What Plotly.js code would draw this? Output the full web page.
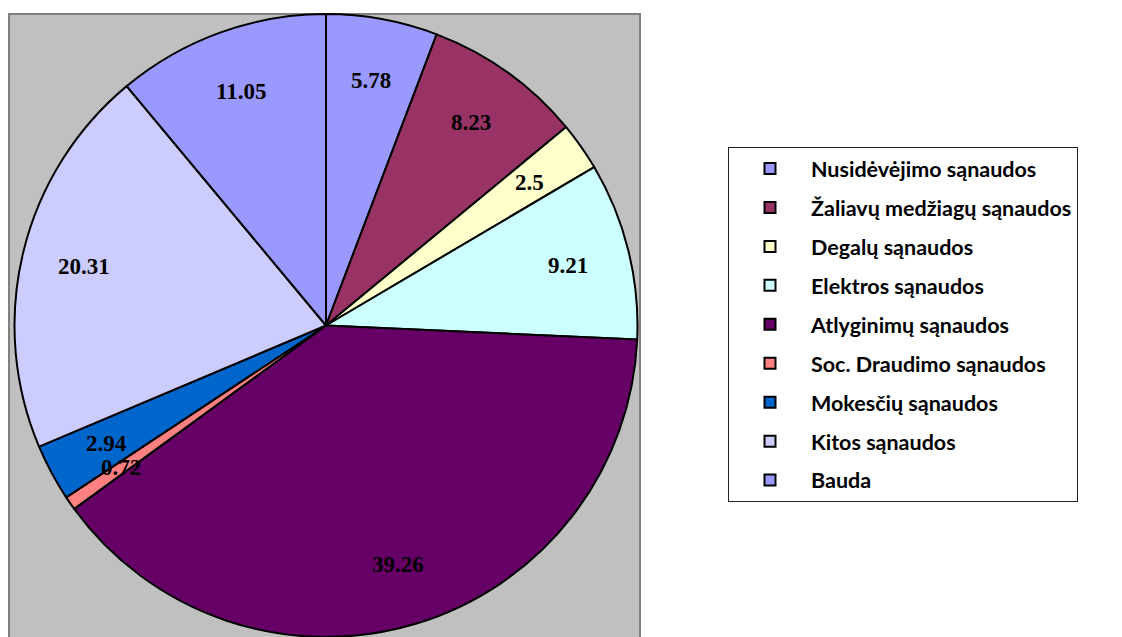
<!DOCTYPE html>
<html>
<head>
<meta charset="utf-8">
<script src="https://cdn.plot.ly/plotly-3.0.1.min.js"></script>
<style>html,body{margin:0;padding:0;background:#fff;}#chart{width:1122px;height:637px;}</style>
</head>
<body>
<div id="chart"></div>
<script>
const labels = ["Nusidėvėjimo sąnaudos","Žaliavų medžiagų sąnaudos","Degalų sąnaudos","Elektros sąnaudos","Atlyginimų sąnaudos","Soc. Draudimo sąnaudos","Mokesčių sąnaudos","Kitos sąnaudos","Bauda"];
const values = [5.78, 8.23, 2.5, 9.21, 39.26, 0.72, 2.94, 20.31, 11.05];
const colors = ["#9999FF","#993366","#FFFFCC","#CCFFFF","#660066","#FF8080","#0066CC","#CCCCFF","#9999FF"];

const W = 1122, H = 637;
// pie domain in pixels
const px0 = 14, px1 = 638, pyTop = 14, pyBot = 637;
const domX = [px0 / W, px1 / W];
const domY = [0, (H - pyTop) / H];
const R = Math.min(px1 - px0, pyBot - pyTop) / 2;
const cx = (px0 + px1) / 2;
const cy = pyTop + (pyBot - pyTop) / 2;

const total = values.reduce((a, b) => a + b, 0);
let cum = 0;
const annotations = values.map((v, i) => {
  const mid = (cum + v / 2) / total * 2 * Math.PI;
  cum += v;
  const r = 0.8 * R;
  const x = cx + r * Math.sin(mid);
  const y = cy - r * Math.cos(mid);
  return {
    xref: 'paper', yref: 'paper', x: x / W, y: (H - y) / H,
    text: String(v), showarrow: false, xanchor: 'center', yanchor: 'middle',
    font: {family: 'Liberation Serif', size: 23, color: '#000', weight: 'bold'}
  };
});

const traces = [{
  type: 'pie', labels: labels, values: values, sort: false, direction: 'clockwise', rotation: 0,
  marker: {colors: colors, line: {color: '#000', width: 2}},
  textinfo: 'none', hoverinfo: 'label+value', showlegend: false,
  domain: {x: domX, y: domY}
}];
labels.forEach((lab, i) => {
  traces.push({
    type: 'scatter', mode: 'markers', x: [null], y: [null], name: lab,
    legendgroup: 'g' + i,
    marker: {symbol: 'square', size: 11, color: colors[i], line: {color: '#000', width: 2}},
    hoverinfo: 'skip'
  });
});

const layout = {
  width: W, height: H,
  margin: {l: 0, r: 0, t: 0, b: 0},
  paper_bgcolor: '#fff', plot_bgcolor: 'rgba(0,0,0,0)',
  xaxis: {visible: false}, yaxis: {visible: false},
  showlegend: true,
  legend: {
    x: 728 / W, y: (H - 147) / H, xanchor: 'left', yanchor: 'top',
    bgcolor: '#fff', bordercolor: '#222', borderwidth: 1,
    font: {family: 'Lato', size: 21.5, color: '#000', weight: 'bold'},
    tracegroupgap: 8, traceorder: 'grouped', itemwidth: 72, itemclick: false
  },
  shapes: [{
    type: 'rect', xref: 'paper', yref: 'paper', layer: 'below',
    x0: 9 / W, x1: 640 / W, y0: -0.02, y1: (H - 14) / H,
    fillcolor: '#C0C0C0', line: {color: '#808080', width: 2}
  }],
  annotations: annotations
};

Plotly.newPlot('chart', traces, layout, {displayModeBar: false, staticPlot: true});
</script>
</body>
</html>
